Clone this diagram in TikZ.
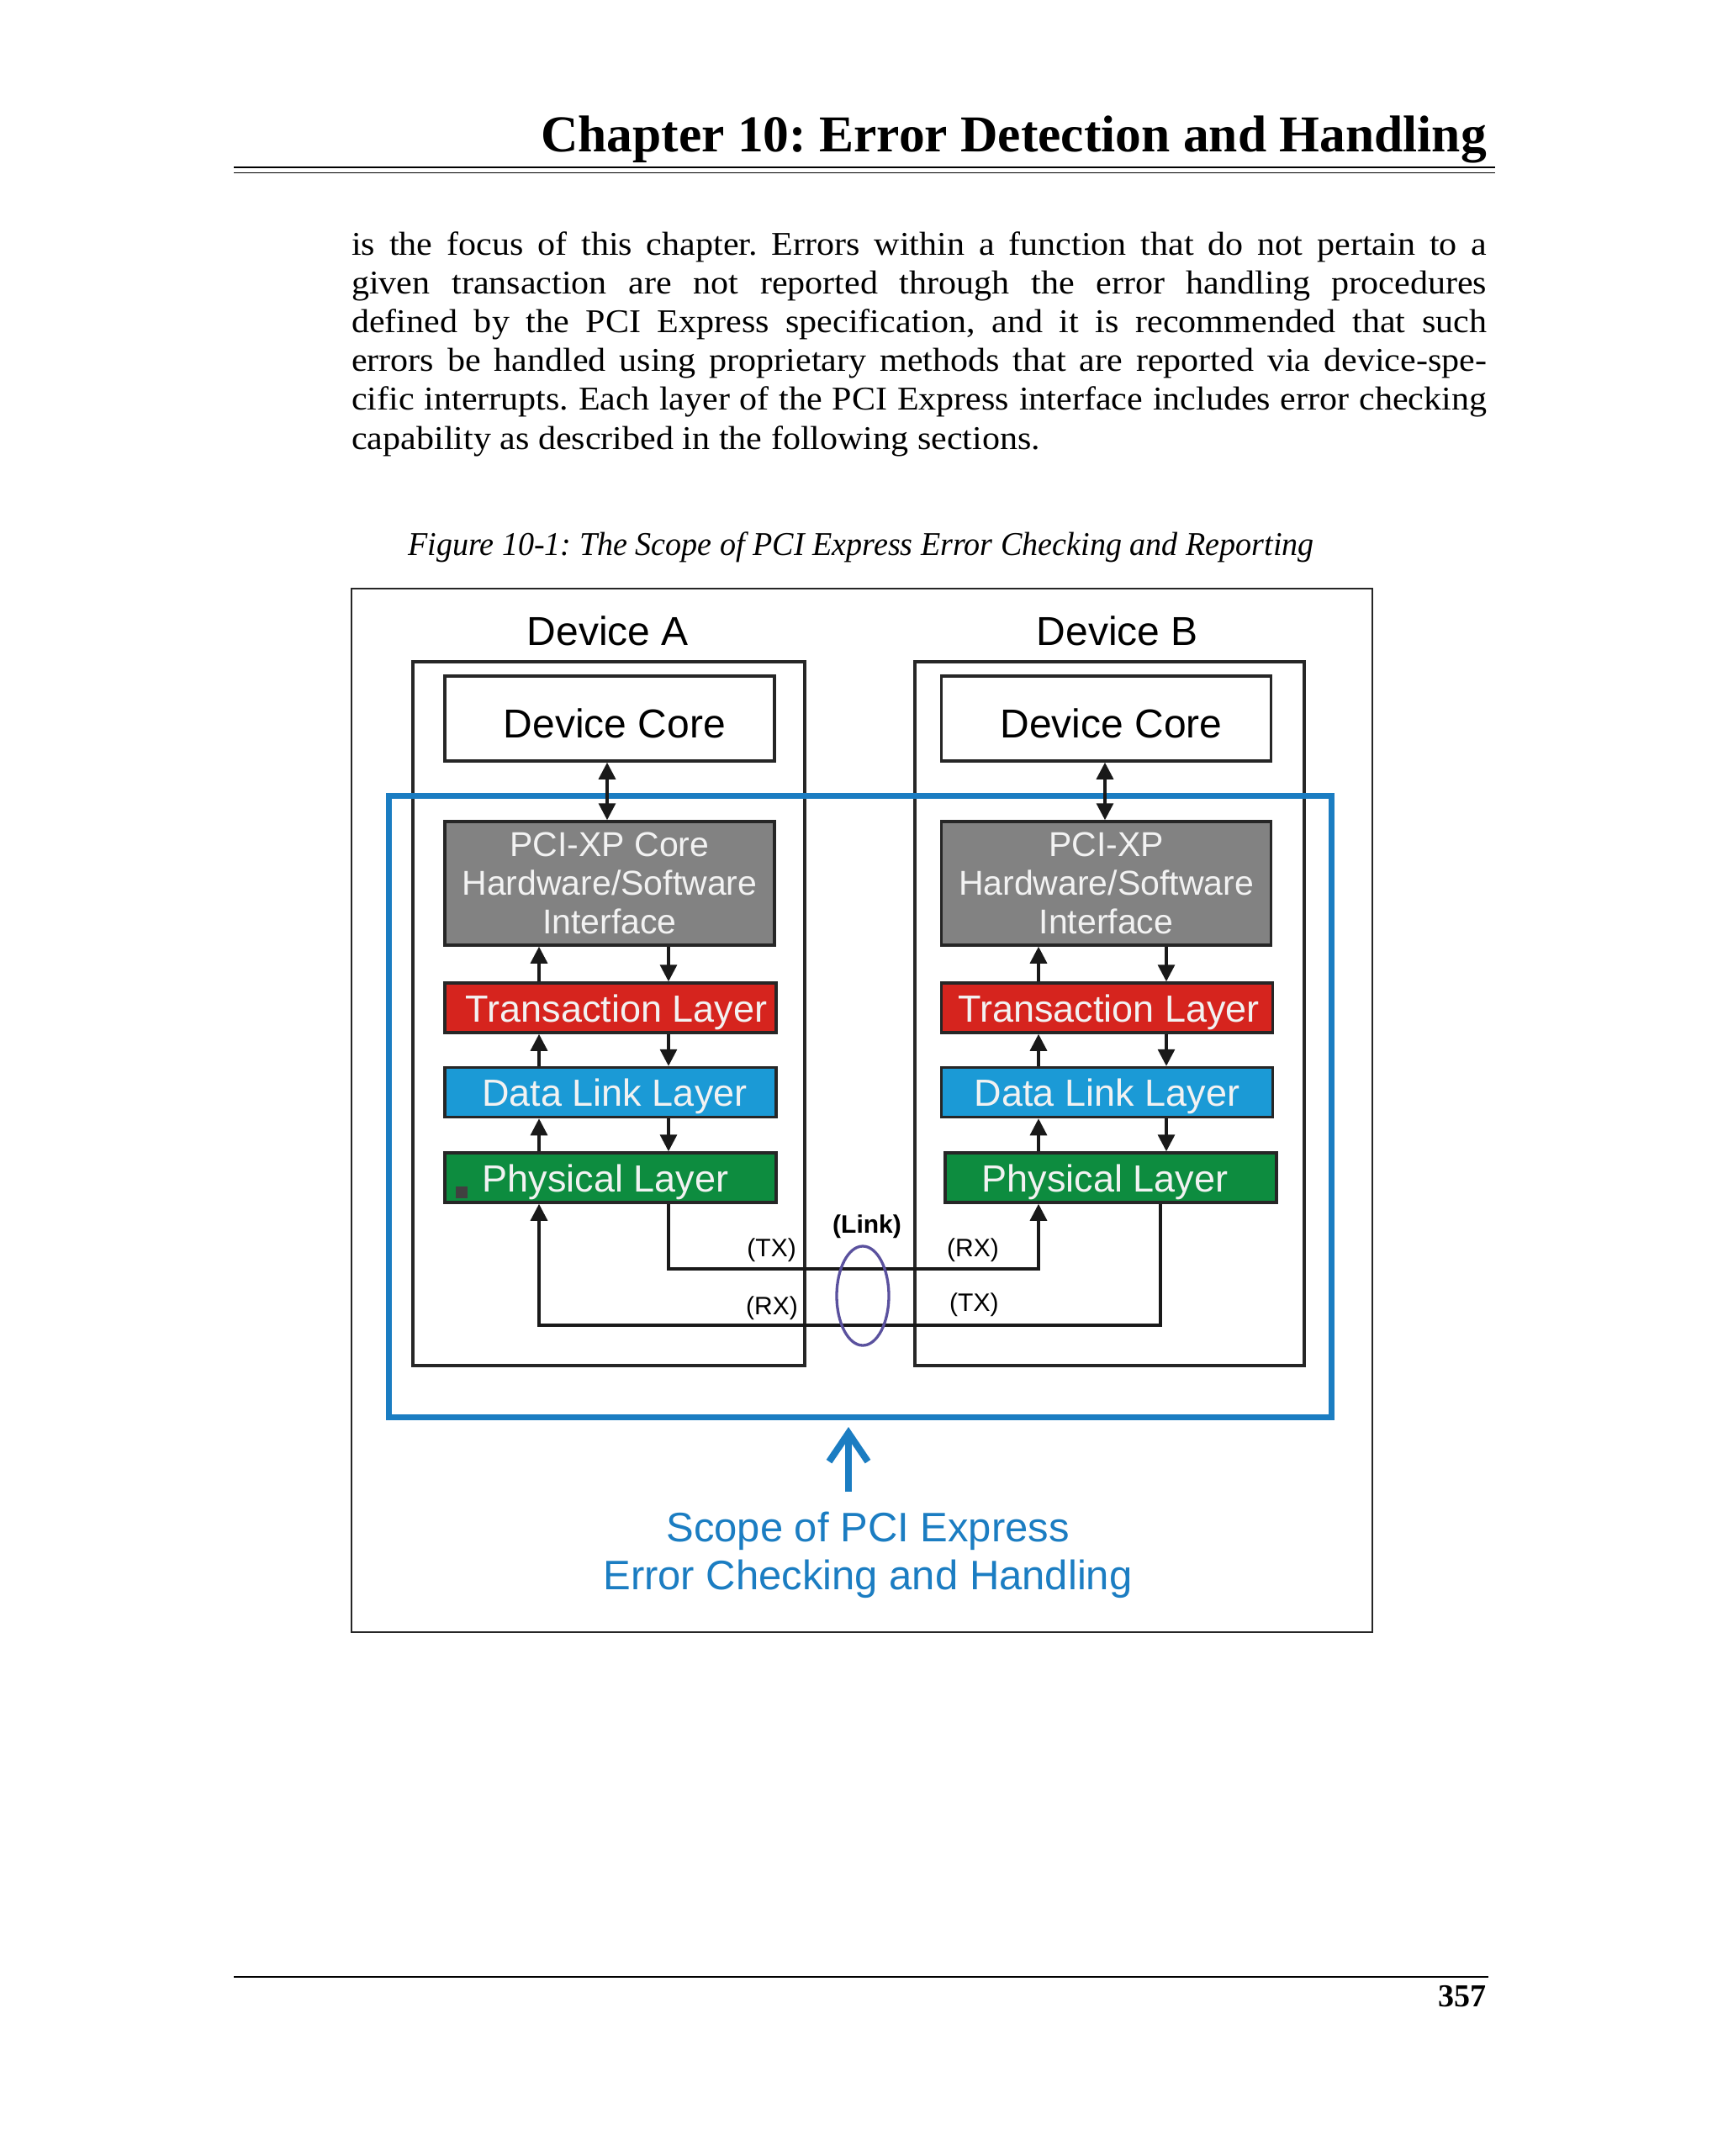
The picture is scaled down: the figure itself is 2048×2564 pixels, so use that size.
\documentclass[tikz,border=0pt]{standalone}
\usepackage{fontspec}
\setmainfont{Liberation Serif}
\newfontfamily\diafont{Liberation Sans}
\newfontfamily\bodyfont[FakeStretch=1.065]{Liberation Serif}
\newfontfamily\capfont[FakeStretch=0.965]{Liberation Serif}
\usetikzlibrary{arrows.meta,shapes.geometric}
\definecolor{pcigray}{RGB}{130,130,130}
\definecolor{tlred}{RGB}{214,36,30}
\definecolor{dlblue}{RGB}{27,154,214}
\definecolor{phgreen}{RGB}{13,140,63}
\definecolor{scopeblue}{RGB}{27,125,194}
\definecolor{linkpurple}{RGB}{90,81,158}
\definecolor{lighttext}{RGB}{242,242,242}
\frenchspacing
\begin{document}
\frenchspacing
\begin{tikzpicture}[x=1pt,y=-1pt,
  bodyline/.style={anchor=base west, inner sep=0pt, font=\bodyfont\fontsize{39.5}{46}\selectfont},
  outerbox/.style={draw=black!85, line width=3.5pt, inner sep=0pt},
  corebox/.style={draw=black!85, line width=3.5pt, fill=white, inner sep=0pt, minimum width=392pt, minimum height=101pt, text height=45pt, text depth=0pt, font=\diafont\fontsize{48}{56}\selectfont},
  pcibox/.style={draw=black!85, line width=3.5pt, fill=pcigray, text=lighttext, inner sep=0pt, minimum width=392pt, minimum height=147pt, align=center, font=\diafont\fontsize{41}{46}\selectfont},
  layerbox/.style={draw=black!85, line width=3.5pt, fill=#1, text=lighttext, inner sep=0pt, minimum width=394pt, minimum height=59pt, text height=36pt, text depth=3pt, font=\diafont\fontsize{45}{52}\selectfont},
  devlabel/.style={anchor=base, inner sep=0pt, font=\diafont\fontsize{48}{56}\selectfont},
  arr/.style={line width=3.3pt, draw=black!90, -{Triangle[length=20pt,width=20pt]}},
  dblarr/.style={line width=3.3pt, draw=black!90, {Triangle[length=20pt,width=20pt]}-{Triangle[length=20pt,width=20pt]}},
  sidelabel/.style={inner sep=0pt, font=\diafont\fontsize{30}{36}\selectfont},
  scopetext/.style={anchor=base, inner sep=0pt, text=scopeblue, font=\diafont\fontsize{49}{57}\selectfont}
]
\useasboundingbox[fill=white] (0,0) rectangle (2048,2564);

% header
\node[anchor=base east, inner sep=0pt, font=\bfseries\fontsize{61.5}{70}\selectfont] (title) at (1768,180) {Chapter 10: Error Detection and Handling};
\draw[line width=2.5pt] (278,199) -- (1778,199);
\draw[line width=1.8pt] (278,205.5) -- (1778,205.5);

% body text
\node[bodyline] (l1) at (418,303) {\makebox[1350pt][s]{is the focus of this chapter. Errors within a function that do not pertain to a}};
\node[bodyline] (l2) at (418,349.2) {\makebox[1350pt][s]{given transaction are not reported through the error handling procedures}};
\node[bodyline] (l3) at (418,395.4) {\makebox[1350pt][s]{defined by the PCI Express specification, and it is recommended that such}};
\node[bodyline] (l4) at (418,441.6) {\makebox[1350pt][s]{errors be handled using proprietary methods that are reported via device-spe-}};
\node[bodyline] (l5) at (418,487.8) {\makebox[1350pt][s]{cific interrupts. Each layer of the PCI Express interface includes error checking}};
\node[bodyline] (l6) at (418,534) {capability as described in the following sections.};

% caption
\node[anchor=base west, inner sep=0pt, font=\capfont\itshape\fontsize{39.5}{46}\selectfont] (caption) at (485,660) {Figure 10-1: The Scope of PCI Express Error Checking and Reporting};

% figure frame
\node[draw=black!85, line width=2pt, inner sep=0pt, minimum width=1214pt, minimum height=1241pt] (frame) at (1025,1320.5) {};

% devices
\node[outerbox, minimum width=466pt, minimum height=837pt] (devA) at (724,1205.5) {};
\node[outerbox, minimum width=463pt, minimum height=837pt] (devB) at (1319.5,1205.5) {};
\node[devlabel] (labA) at (723,767) {Device A};
\node[devlabel] (labB) at (1329,767) {Device B};

\node[corebox] (coreA) at (725,854.5) {\hspace*{12pt}Device Core};
\node[corebox] (coreB) at (1315.5,854.5) {\hspace*{12pt}Device Core};

\node[pcibox] (pciA) at (725,1050.5) {PCI-XP Core\\Hardware/Software\\Interface};
\node[pcibox] (pciB) at (1315.5,1050.5) {PCI-XP\\Hardware/Software\\Interface};

\node[layerbox=tlred] (trA) at (726,1198.5) {\hspace*{14pt}Transaction Layer};
\node[layerbox=tlred] (trB) at (1316.5,1198.5) {\hspace*{4pt}Transaction Layer};
\node[layerbox=dlblue] (dlA) at (726,1299) {\hspace*{10pt}Data Link Layer};
\node[layerbox=dlblue] (dlB) at (1316.5,1299) {Data Link Layer};
\node[layerbox=phgreen] (phA) at (726,1400.5) {Physical Layer\hspace*{12pt}};
\node[layerbox=phgreen] (phB) at (1321,1400.5) {Physical Layer\hspace*{14pt}};
\node[fill=black!75, inner sep=0pt, minimum size=14pt] (speck) at (549,1418) {};

% scope rectangle
\node[draw=scopeblue, line width=7pt, inner sep=0pt, minimum width=1121pt, minimum height=739pt] (scope) at (1022.5,1315.5) {};

% column positions
\coordinate (xAm) at (722,0);
\coordinate (xAup) at (641,0);
\coordinate (xAdn) at (795,0);
\coordinate (xBm) at (1314,0);
\coordinate (xBup) at (1235,0);
\coordinate (xBdn) at (1387,0);
\coordinate (xBtx) at (1380,0);
\coordinate (txrow) at (0,1509);
\coordinate (rxrow) at (0,1576);

% vertical arrows
\draw[dblarr] (coreA.south -| xAm) -- (pciA.north -| xAm);
\draw[dblarr] (coreB.south -| xBm) -- (pciB.north -| xBm);
\draw[arr] (trA.north -| xAup) -- (pciA.south -| xAup);
\draw[arr] (pciA.south -| xAdn) -- (trA.north -| xAdn);
\draw[arr] (dlA.north -| xAup) -- (trA.south -| xAup);
\draw[arr] (trA.south -| xAdn) -- (dlA.north -| xAdn);
\draw[arr] (phA.north -| xAup) -- (dlA.south -| xAup);
\draw[arr] (dlA.south -| xAdn) -- (phA.north -| xAdn);
\draw[arr] (trB.north -| xBup) -- (pciB.south -| xBup);
\draw[arr] (pciB.south -| xBdn) -- (trB.north -| xBdn);
\draw[arr] (dlB.north -| xBup) -- (trB.south -| xBup);
\draw[arr] (trB.south -| xBdn) -- (dlB.north -| xBdn);
\draw[arr] (phB.north -| xBup) -- (dlB.south -| xBup);
\draw[arr] (dlB.south -| xBdn) -- (phB.north -| xBdn);

% link lines
\draw[arr] (phA.south -| xAdn) |- (xBup |- txrow) -- (phB.south -| xBup);
\draw[arr] (phB.south -| xBtx) |- (xAup |- rxrow) -- (phA.south -| xAup);
\node[draw=linkpurple, line width=3.3pt, ellipse, inner sep=0pt, minimum width=62pt, minimum height=118pt] (link) at (1026,1541) {};

% link labels
\node[inner sep=0pt, font=\diafont\bfseries\fontsize{30}{36}\selectfont] (linklbl) at (1031,1459) {(Link)};
\node[sidelabel, anchor=east] (txA) at (947,1487) {(TX)};
\node[sidelabel, anchor=east] (rxA) at (949,1556) {(RX)};
\node[sidelabel, anchor=west] (rxB) at (1126,1487) {(RX)};
\node[sidelabel, anchor=west] (txB) at (1129,1552) {(TX)};

% scope arrow and text
\coordinate (scopetail) at (1009,1774);
\coordinate (scopetip) at (1009,1697);
\draw[draw=scopeblue, line width=8pt, -{Straight Barb[length=34pt,width=46pt]}] (scopetail) -- (scopetip);
\node[scopetext] (scope1) at (1032,1833) {Scope of PCI Express};
\node[scopetext] (scope2) at (1032,1890) {Error Checking and Handling};

% footer
\draw[line width=2pt] (278,2351) -- (1770,2351);
\node[anchor=base east, inner sep=0pt, font=\bfseries\fontsize{38}{44}\selectfont] (pagenum) at (1768,2386) {357};
\end{tikzpicture}
\end{document}
